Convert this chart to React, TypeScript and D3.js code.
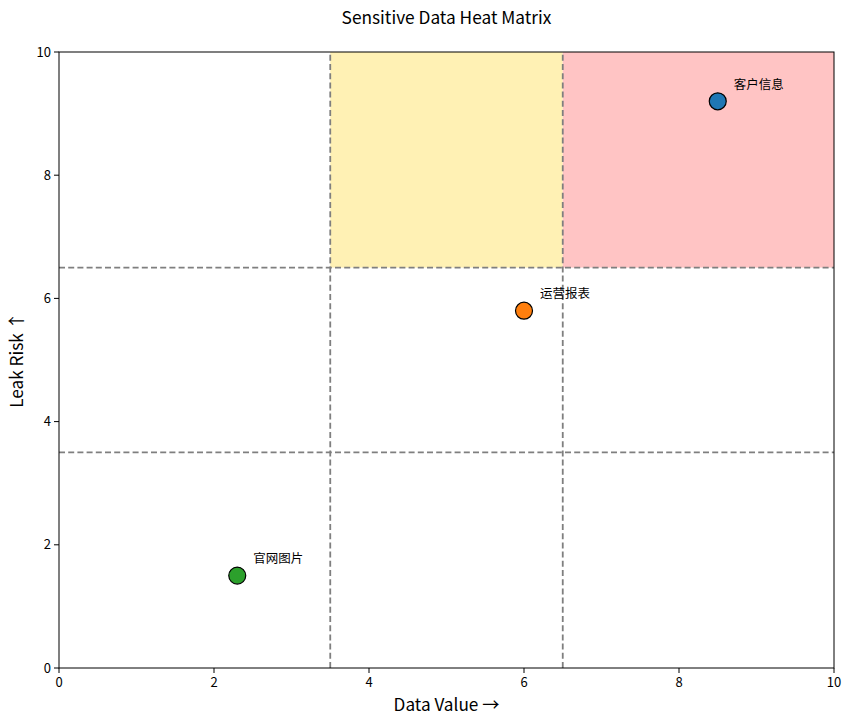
import React from "react";
import * as d3 from "d3";

const names = ["客户信息", "运营报表", "官网图片"];
const dataValue = [8.5, 6.0, 2.3];
const leakRisk = [9.2, 5.8, 1.5];
const colors = ["#1f77b4", "#ff7f0e", "#2ca02c"];
const ticks = [0, 2, 4, 6, 8, 10];
const thresholds = [3.5, 6.5];

const W = 851, H = 725;
const M = { left: 59, right: 834, top: 52, bottom: 668 };
const FONT = "'Noto Sans CJK SC', 'Noto Sans', sans-serif";

export default function App() {
  const x = d3.scaleLinear().domain([0, 10]).range([M.left, M.right]);
  const y = d3.scaleLinear().domain([0, 10]).range([M.bottom, M.top]);
  return (
    <svg width={W} height={H} style={{ position: "absolute", left: 0, top: 0 }} fontFamily={FONT}>
      <rect x={0} y={0} width={W} height={H} fill="#fff" />
      <rect x={x(3.5)} y={y(10)} width={x(6.5) - x(3.5)} height={y(6.5) - y(10)} fill="#FFF1B4" />
      <rect x={x(6.5)} y={y(10)} width={x(10) - x(6.5)} height={y(6.5) - y(10)} fill="#FFC4C4" />
      {thresholds.map((t) => (
        <g key={"t" + t}>
          <line x1={x(t)} x2={x(t)} y1={y(0)} y2={y(10)} stroke="#7f7f7f" strokeWidth={1.8} strokeDasharray="6,3.2" />
          <line x1={x(0)} x2={x(10)} y1={y(t)} y2={y(t)} stroke="#7f7f7f" strokeWidth={1.8} strokeDasharray="6,3.2" />
        </g>
      ))}
      {names.map((n, i) => (
        <g key={n}>
          <circle cx={x(dataValue[i])} cy={y(leakRisk[i])} r={8.5} fill={colors[i]} stroke="#000" strokeWidth={1.2} />
          <text x={x(dataValue[i]) + 16} y={y(leakRisk[i]) - 12.5} fontSize={12.5} fill="#000">{n}</text>
        </g>
      ))}
      <rect x={M.left} y={M.top} width={M.right - M.left} height={M.bottom - M.top} fill="none" stroke="#000" strokeWidth={1} />
      {ticks.map((t) => (
        <g key={"x" + t}>
          <line x1={x(t)} x2={x(t)} y1={M.bottom} y2={M.bottom + 5} stroke="#000" />
          <text x={x(t)} y={M.bottom + 19} fontSize={13} textAnchor="middle" fill="#000">{t}</text>
          <line x1={M.left - 5} x2={M.left} y1={y(t)} y2={y(t)} stroke="#000" />
          <text x={M.left - 8} y={y(t) + 4.5} fontSize={13} textAnchor="end" fill="#000">{t}</text>
        </g>
      ))}
      <text x={(M.left + M.right) / 2} y={24} fontSize={17.3} textAnchor="middle" fill="#000">Sensitive Data Heat Matrix</text>
      <text x={(M.left + M.right) / 2} y={711} fontSize={17.2} textAnchor="middle" fill="#000">Data Value →</text>
      <text transform={`translate(23, ${(M.top + M.bottom) / 2}) rotate(-90)`} fontSize={17.2} textAnchor="middle" fill="#000">Leak Risk ↑</text>
    </svg>
  );
}
